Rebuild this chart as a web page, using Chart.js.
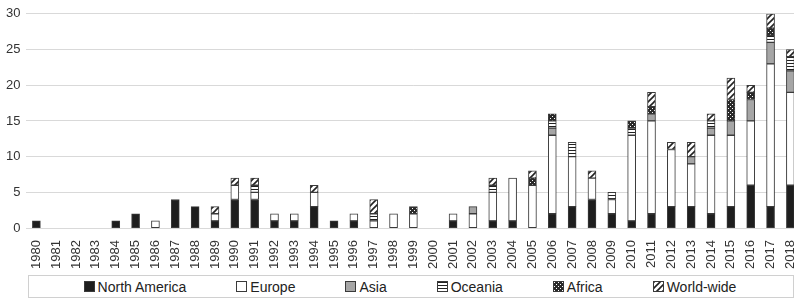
<!DOCTYPE html>
<html>
<head>
<meta charset="utf-8">
<script src="https://cdn.jsdelivr.net/npm/chart.js@4/dist/chart.umd.min.js"></script>
<style>
  html, body { margin: 0; padding: 0; background: #fff; }
  #wrap { width: 794px; height: 300px; position: relative; overflow: hidden; }
  #inner { width: 810px; height: 300px; position: absolute; left: 0; top: 0; }
  #legend {
    position: absolute; left: 28px; top: 275px; width: 762px; height: 21px;
    border: 1px solid #d0d0d0; box-sizing: content-box;
    display: flex; justify-content: center; align-items: center; gap: 50px;
    font: 14px "Liberation Sans", Arial, sans-serif; color: #222;
    padding-right: 2px; background: #fff;
  }
  #legend .item { display: flex; align-items: center; white-space: nowrap; }
  #legend .sw { width: 9px; height: 9px; border: 1px solid #3a3a3a; margin-right: 3px; }
</style>
</head>
<body>
<div id="wrap"><div id="inner"><canvas id="chart"></canvas></div><div id="legend"></div></div>
<script>
// Jahre / years
const years = [];
for (let y = 1980; y <= 2018; y++) years.push(String(y));

// Werte je Region, 1980..2018
const northAmerica = [1,0,0,0,1,2,0,4,3,1, 4,4,1,1,3,1,1,0,0,0, 0,1,0,1,1,0,2,3,4,2, 1,2,3,3,2,3,6,3,6];
const europe       = [0,0,0,0,0,0,1,0,0,1, 2,1,1,1,2,0,1,1,2,2, 0,1,2,4,6,6,11,7,3,2, 12,13,8,6,11,10,9,20,13];
const asia         = [0,0,0,0,0,0,0,0,0,0, 0,0,0,0,0,0,0,0,0,0, 0,0,1,0,0,0,1,0,0,0, 0,1,0,1,1,2,3,3,3];
const oceania      = [0,0,0,0,0,0,0,0,0,0, 0,1,0,0,0,0,0,1,0,0, 0,0,0,1,0,0,1,2,0,1, 1,0,0,0,1,0,0,1,2];
const africa       = [0,0,0,0,0,0,0,0,0,0, 0,0,0,0,0,0,0,0,0,1, 0,0,0,0,0,1,1,0,0,0, 1,1,0,0,0,3,1,1,0];
const worldWide    = [0,0,0,0,0,0,0,0,0,1, 1,1,0,0,1,0,0,2,0,0, 0,0,0,1,0,1,0,0,1,0, 0,2,1,2,1,3,1,2,1];

const seriesNames = ['North America', 'Europe', 'Asia', 'Oceania', 'Africa', 'World-wide'];

const EDGE = '#3a3a3a';

// kleine Muster fuer die schraffierten Serien
function makePatternCanvas(kind) {
  const c = document.createElement('canvas');
  const ctx = c.getContext('2d');
  if (kind === 'lines') {
    c.width = 4; c.height = 3;
    ctx.fillStyle = '#fff'; ctx.fillRect(0, 0, 4, 3);
    ctx.fillStyle = '#222'; ctx.fillRect(0, 0, 4, 1);
  } else if (kind === 'cross') {
    c.width = 4; c.height = 4;
    ctx.fillStyle = '#2a2a2a'; ctx.fillRect(0, 0, 4, 4);
    ctx.fillStyle = '#fff';
    ctx.fillRect(0, 0, 1, 1);
    ctx.fillRect(2, 2, 1, 1);
  } else if (kind === 'diag') {
    c.width = 6; c.height = 6;
    ctx.fillStyle = '#fff'; ctx.fillRect(0, 0, 6, 6);
    ctx.strokeStyle = '#222'; ctx.lineWidth = 1.6;
    ctx.beginPath();
    ctx.moveTo(-1, 7); ctx.lineTo(7, -1);
    ctx.moveTo(-4, 4); ctx.lineTo(4, -4);
    ctx.moveTo(2, 10); ctx.lineTo(10, 2);
    ctx.stroke();
  }
  return c;
}

const tmpCtx = document.createElement('canvas').getContext('2d');
const patCanvases = [null, null, null, makePatternCanvas('lines'), makePatternCanvas('cross'), makePatternCanvas('diag')];
const plainColors = ['#1e1e1e', '#ffffff', '#a6a6a6'];
const fills = patCanvases.map((pc, i) => pc ? tmpCtx.createPattern(pc, 'repeat') : plainColors[i]);
const seriesData = [northAmerica, europe, asia, oceania, africa, worldWide];

const datasets = seriesNames.map((name, i) => ({
  label: name,
  data: seriesData[i].map(v => v === 0 ? null : v),
  backgroundColor: fills[i],
  borderColor: EDGE,
  borderWidth: 1,
  borderSkipped: false,
  barThickness: 8
}));

// Legende als HTML (Abstaende wie im Original)
const legendEl = document.getElementById('legend');
seriesNames.forEach((name, i) => {
  const item = document.createElement('div');
  item.className = 'item';
  const sw = document.createElement('span');
  sw.className = 'sw';
  if (patCanvases[i]) {
    sw.style.backgroundImage = 'url(' + patCanvases[i].toDataURL() + ')';
  } else {
    sw.style.background = plainColors[i];
  }
  const txt = document.createElement('span');
  txt.textContent = name;
  item.appendChild(sw);
  item.appendChild(txt);
  legendEl.appendChild(item);
});

new Chart(document.getElementById('chart'), {
  type: 'bar',
  data: { labels: years, datasets: datasets },
  options: {
    responsive: true,
    maintainAspectRatio: false,
    animation: false,
    layout: { padding: { top: 6, right: 0, left: 0, bottom: 27 } },
    plugins: {
      tooltip: { enabled: false },
      legend: { display: false }
    },
    scales: {
      x: {
        stacked: true,
        grid: { display: false },
        border: { color: '#d9d9d9' },
        ticks: {
          minRotation: 90,
          maxRotation: 90,
          autoSkip: false,
          padding: 4,
          color: '#333',
          font: { family: 'Liberation Sans, Arial, sans-serif', size: 13 }
        }
      },
      y: {
        stacked: true,
        min: 0,
        max: 30,
        border: { display: false },
        grid: { color: '#d9d9d9', drawTicks: false },
        ticks: {
          stepSize: 5,
          padding: 6,
          color: '#333',
          font: { family: 'Liberation Sans, Arial, sans-serif', size: 13 }
        }
      }
    }
  }
});
</script>
</body>
</html>
